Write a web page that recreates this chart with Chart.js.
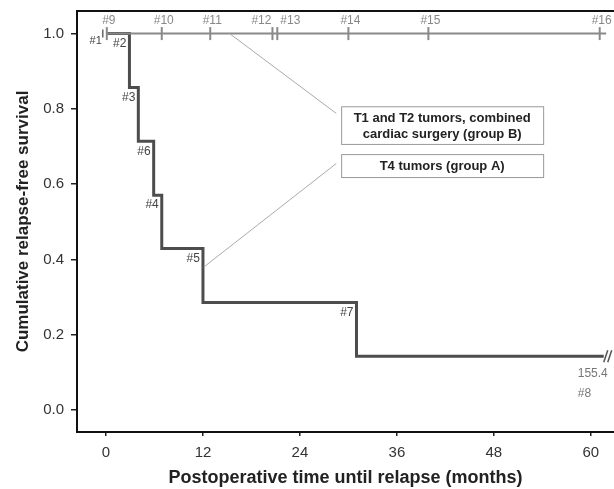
<!DOCTYPE html>
<html lang="en">
<head>
<meta charset="UTF-8">
<title>Relapse-free survival</title>
<script src="https://cdn.jsdelivr.net/npm/chart.js"></script>
<style>
  html, body { margin: 0; padding: 0; background: #fff; }
</style>
</head>
<body>
<canvas id="kmChart" width="614" height="489"></canvas>
<script>
// group A (T4 tumors): months at each relapse and survival after the step
const groupATimes = [0, 2.9, 4.0, 5.9, 6.9, 12.0, 31.0, 61.6];
const groupASurvival = [1.0, 0.857, 0.714, 0.571, 0.429, 0.286, 0.143, 0.143];
const groupAEventLabels = ['', '#2', '#3', '#6', '#4', '#5', '#7', ''];
const groupACensorTimes = [-0.4];
const groupACensorLabels = ['#1'];
const groupALastFollowUp = '155.4';
const groupALastLabel = '#8';

// group B (T1/T2 tumors, combined cardiac surgery): no relapse, all censored
const groupBTimes = [0, 61.9];
const groupBSurvival = [1.0, 1.0];
const groupBCensorTimes = [0.1, 6.9, 12.9, 20.6, 21.2, 30.0, 39.9, 61.1];
const groupBCensorLabels = ['#9', '#10', '#11', '#12', '#13', '#14', '#15', '#16'];

const xTicks = [0, 12, 24, 36, 48, 60];
const yTicks = [0.0, 0.2, 0.4, 0.6, 0.8, 1.0];

const legendB = ['T1 and T2 tumors, combined', 'cardiac surgery (group B)'];
const legendA = ['T4 tumors (group A)'];

const FONT = '"Liberation Sans", Arial, sans-serif';
Chart.defaults.font.family = FONT;

function pts(xs, ys) {
    return xs.map((t, i) => ({ x: t, y: ys[i] }));
}

// labels, break marks, frame top, callout boxes
const overlay = {
    id: 'overlay',
    afterDatasetsDraw(chart) {
        const { ctx, chartArea, scales: { x, y } } = chart;
        ctx.save();

        ctx.strokeStyle = '#111';
        ctx.lineWidth = 2;
        ctx.beginPath();
        ctx.moveTo(chartArea.left, chartArea.top);
        ctx.lineTo(chartArea.right, chartArea.top);
        ctx.stroke();

        ctx.textBaseline = 'middle';
        ctx.font = '12px ' + FONT;
        ctx.fillStyle = '#444';
        groupAEventLabels.forEach((lab, i) => {
            if (!lab) return;
            ctx.textAlign = 'right';
            ctx.fillText(lab, x.getPixelForValue(groupATimes[i]) - 3,
                y.getPixelForValue(groupASurvival[i - 1]) + 10);
        });
        ctx.font = '11px ' + FONT;
        groupACensorLabels.forEach((lab, i) => {
            ctx.textAlign = 'right';
            ctx.fillText(lab, x.getPixelForValue(groupACensorTimes[i]) - 1, y.getPixelForValue(1) + 7);
        });

        ctx.font = '12px ' + FONT;
        ctx.fillStyle = '#888';
        groupBCensorLabels.forEach((lab, i) => {
            const px = x.getPixelForValue(groupBCensorTimes[i]);
            const py = y.getPixelForValue(groupBSurvival[0]) - 13;
            if (lab === '#12') { ctx.textAlign = 'right'; ctx.fillText(lab, px - 1, py); }
            else if (lab === '#13') { ctx.textAlign = 'left'; ctx.fillText(lab, px + 3, py); }
            else { ctx.textAlign = 'center'; ctx.fillText(lab, px + 2, py); }
        });

        // axis break at the end of group A
        const n = groupATimes.length - 1;
        const bx = x.getPixelForValue(groupATimes[n]) + 3;
        const by = y.getPixelForValue(groupASurvival[n]);
        ctx.strokeStyle = '#555';
        ctx.lineWidth = 1.5;
        [0, 4].forEach(d => {
            ctx.beginPath();
            ctx.moveTo(bx - 3 + d, by + 6);
            ctx.lineTo(bx + 1 + d, by - 6);
            ctx.stroke();
        });
        ctx.font = '12px ' + FONT;
        ctx.fillStyle = '#777';
        ctx.textAlign = 'left';
        ctx.fillText(groupALastFollowUp, bx - 29, by + 17);
        ctx.fillText(groupALastLabel, bx - 29, by + 37);

        // leader lines to the callouts
        ctx.strokeStyle = '#aaa';
        ctx.lineWidth = 1;
        ctx.beginPath();
        ctx.moveTo(x.getPixelForValue(15.3), y.getPixelForValue(1.0));
        ctx.lineTo(x.getPixelForValue(28.5), y.getPixelForValue(0.788));
        ctx.moveTo(x.getPixelForValue(12.1), y.getPixelForValue(0.38));
        ctx.lineTo(x.getPixelForValue(28.5), y.getPixelForValue(0.655));
        ctx.stroke();

        const box = (x0, x1, y0, y1, lines) => {
            const l = x.getPixelForValue(x0), r = x.getPixelForValue(x1);
            const t = y.getPixelForValue(y0), b = y.getPixelForValue(y1);
            ctx.fillStyle = '#fff';
            ctx.fillRect(l, t, r - l, b - t);
            ctx.strokeStyle = '#999';
            ctx.strokeRect(l + 0.5, t + 0.5, r - l, b - t);
            ctx.fillStyle = '#222';
            ctx.font = 'bold 13px ' + FONT;
            ctx.textAlign = 'center';
            const mid = (t + b) / 2;
            lines.forEach((s, k) => {
                ctx.fillText(s, (l + r) / 2, mid + 1 + (k - (lines.length - 1) / 2) * 16);
            });
        };
        box(29.1, 54.1, 0.807, 0.707, legendB);
        box(29.1, 54.1, 0.68, 0.619, legendA);

        ctx.restore();
    }
};

new Chart(document.getElementById('kmChart'), {
    type: 'scatter',
    data: {
        datasets: [
            {
                data: pts(groupBTimes, groupBSurvival),
                showLine: true, borderColor: '#8a8a8a', borderWidth: 2,
                pointRadius: 0, order: 0
            },
            {
                data: pts(groupBCensorTimes, groupBCensorTimes.map(() => 1.0)),
                showLine: false, pointStyle: 'line', rotation: 90, radius: 6.5,
                borderColor: '#8a8a8a', borderWidth: 2, order: 0
            },
            {
                data: pts(groupATimes, groupASurvival),
                showLine: true, stepped: 'before', borderColor: '#4d4d4d', borderWidth: 3,
                pointRadius: 0, order: 1
            },
            {
                data: pts(groupACensorTimes, groupACensorTimes.map(() => 1.0)),
                showLine: false, pointStyle: 'line', rotation: 90, radius: 4,
                borderColor: '#666', borderWidth: 1.5, order: 1
            }
        ]
    },
    options: {
        responsive: false,
        animation: false,
        events: [],
        layout: { autoPadding: false, padding: { top: 11, right: 0, left: 0, bottom: 0 } },
        plugins: { legend: { display: false }, tooltip: { enabled: false } },
        scales: {
            x: {
                type: 'linear', min: -3.59, max: 62.87,
                afterBuildTicks: s => { s.ticks = xTicks.map(v => ({ value: v })); },
                afterFit: s => { s.height = 57; s.paddingLeft = 0; s.paddingRight = 0; },
                ticks: { color: '#333', font: { size: 15 }, padding: 8, maxRotation: 0, autoSkip: false },
                grid: { drawOnChartArea: false, tickLength: 4, color: '#222', lineWidth: 1.5 },
                border: { color: '#111', width: 2 },
                title: {
                    display: true, text: 'Postoperative time until relapse (months)', color: '#222',
                    font: { size: 18, weight: 'bold' }, padding: { top: 0, bottom: 0 }
                }
            },
            y: {
                type: 'linear', min: -0.058, max: 1.06,
                afterBuildTicks: s => { s.ticks = yTicks.map(v => ({ value: v })); },
                afterFit: s => { s.width = 77; s.paddingTop = 0; s.paddingBottom = 0; },
                ticks: { color: '#333', font: { size: 15 }, padding: 7, callback: v => v.toFixed(1) },
                grid: { drawOnChartArea: false, tickLength: 6, color: '#222', lineWidth: 1.5 },
                border: { color: '#111', width: 2 },
                title: {
                    display: true, text: 'Cumulative relapse-free survival', color: '#222',
                    font: { size: 17, weight: 'bold' }, padding: { top: 13, bottom: 0 }
                }
            }
        }
    },
    plugins: [overlay]
});
</script>
</body>
</html>
